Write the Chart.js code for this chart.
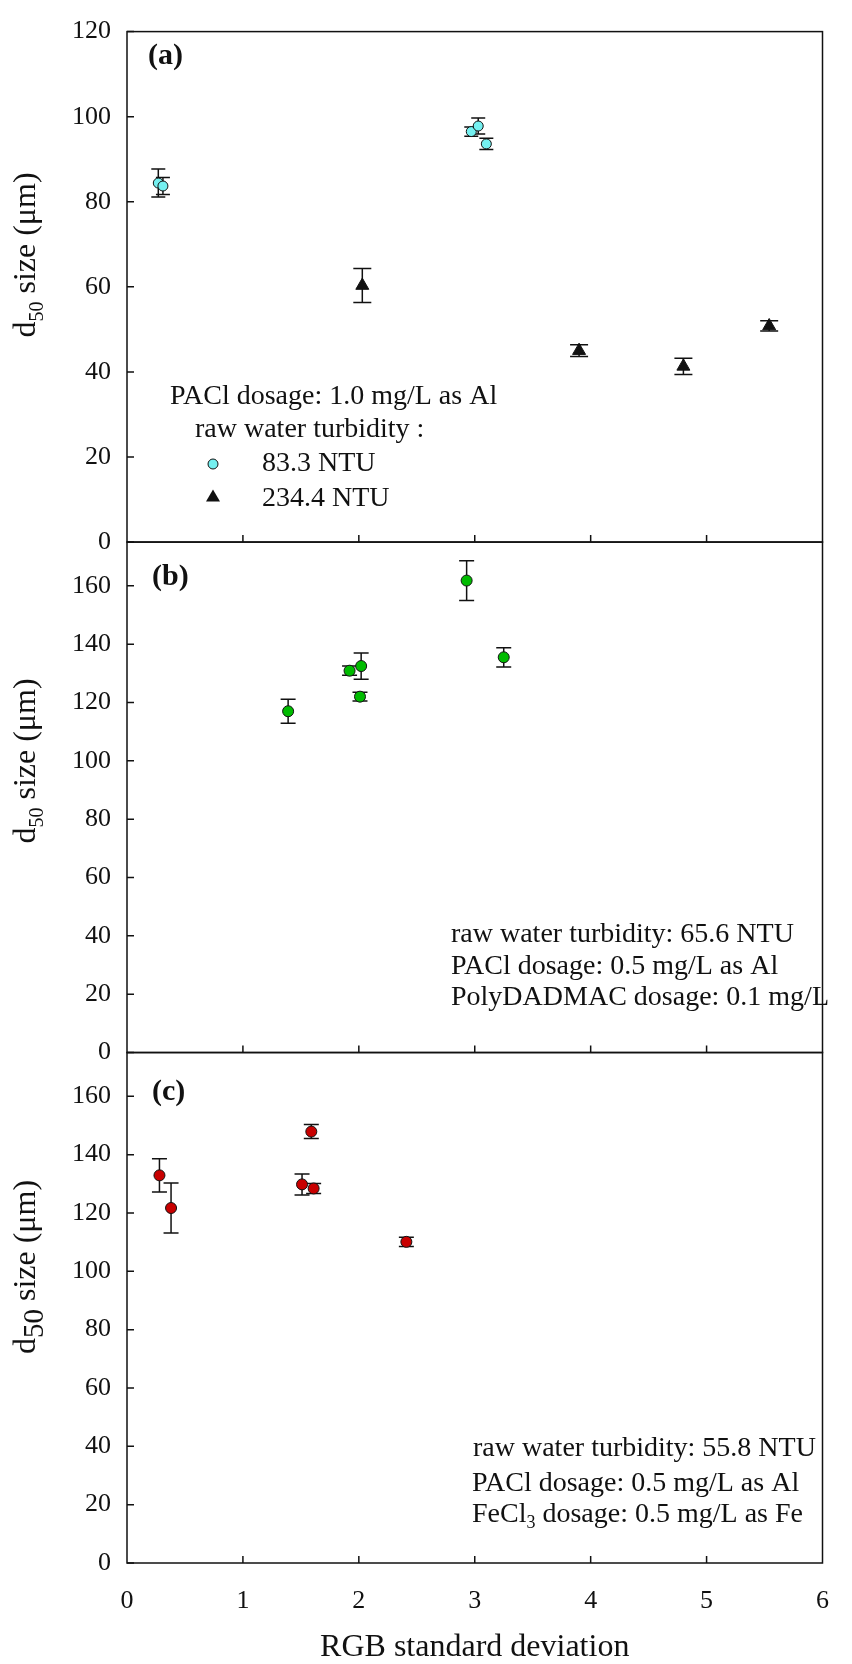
<!DOCTYPE html>
<html>
<head>
<meta charset="utf-8">
<script src="https://cdn.jsdelivr.net/npm/chart.js@4.4.1/dist/chart.umd.min.js"></script>
<style>
html, body { margin: 0; padding: 0; background: #fff; }
canvas { display: block; }
</style>
</head>
<body>
<canvas id="chart" width="852" height="1664"></canvas>
<script>
// panel (a) - PACl 1.0 mg/L as Al, two raw water turbidities
var xA1 = [0.27, 0.31, 2.97, 3.03, 3.10];
var yA1 = [84.4, 83.7, 96.5, 97.8, 93.6];
var eA1 = [3.3, 2.0, 1.1, 1.9, 1.3];
var xA2 = [2.03, 3.90, 4.80, 5.54];
var yA2 = [60.3, 45.0, 41.3, 50.8];
var eA2 = [4.0, 1.4, 1.9, 1.2];

// panel (b) - PACl + PolyDADMAC
var xB = [1.39, 1.92, 2.02, 2.01, 2.93, 3.25];
var yB = [117.0, 130.9, 132.5, 122.0, 161.8, 135.5];
var eB = [4.1, 1.6, 4.5, 1.5, 6.8, 3.3];

// panel (c) - PACl + FeCl3
var xC = [0.28, 0.38, 1.51, 1.61, 1.59, 2.41];
var yC = [132.9, 121.7, 129.8, 128.4, 147.9, 110.1];
var eC = [5.7, 8.6, 3.6, 1.7, 2.4, 1.6];

var xTicks = [0, 1, 2, 3, 4, 5, 6];
var legendA = ['83.3 NTU', '234.4 NTU'];
var notesB = ['raw water turbidity: 65.6 NTU', 'PACl dosage: 0.5 mg/L as Al', 'PolyDADMAC dosage: 0.1 mg/L'];

var FONT = "'Liberation Serif', 'Times New Roman', serif";
var INK = '#111';

function toPoints(xs, ys) {
    return xs.map(function (x, i) { return { x: x, y: ys[i] }; });
}

var errorBars = {
    id: 'errorBars',
    beforeDatasetsDraw: function (chart) {
        var ctx = chart.ctx;
        ctx.save();
        ctx.strokeStyle = INK;
        ctx.lineWidth = 1.5;
        chart.data.datasets.forEach(function (ds, i) {
            var meta = chart.getDatasetMeta(i);
            var ys = chart.scales[ds.yAxisID];
            meta.data.forEach(function (pt, j) {
                var v = ds.data[j].y, e = ds.errors[j], w = ds.capHalf;
                var top = ys.getPixelForValue(v + e);
                var bot = ys.getPixelForValue(v - e);
                ctx.beginPath();
                ctx.moveTo(pt.x, top); ctx.lineTo(pt.x, bot);
                ctx.moveTo(pt.x - w, top); ctx.lineTo(pt.x + w, top);
                ctx.moveTo(pt.x - w, bot); ctx.lineTo(pt.x + w, bot);
                ctx.stroke();
            });
        });
        ctx.restore();
    }
};

function text(ctx, s, x, y, size, bold) {
    ctx.font = (bold ? 'bold ' : '') + size + 'px ' + FONT;
    ctx.fillText(s, x, y);
    return ctx.measureText(s).width;
}

function yTitle(ctx, cx, cy, subSize, subShift) {
    ctx.save();
    ctx.translate(cx, cy);
    ctx.rotate(-Math.PI / 2);
    ctx.textBaseline = 'alphabetic';
    ctx.textAlign = 'left';
    ctx.font = '32px ' + FONT;
    var wd = ctx.measureText('d').width;
    var wr = ctx.measureText(' size (\u03bcm)').width;
    ctx.font = subSize + 'px ' + FONT;
    var ws = ctx.measureText('50').width;
    var x0 = -(wd + ws + wr) / 2;
    text(ctx, 'd', x0, 0, 32);
    text(ctx, '50', x0 + wd, subShift, subSize);
    text(ctx, ' size (\u03bcm)', x0 + wd + ws, 0, 32);
    ctx.restore();
}

var frames = {
    id: 'frames',
    afterDraw: function (chart) {
        var ctx = chart.ctx, area = chart.chartArea, xs = chart.scales.x;
        ctx.save();
        ctx.strokeStyle = INK;
        ctx.lineWidth = 1.5;
        ['yA', 'yB', 'yC'].forEach(function (id) {
            var s = chart.scales[id];
            ctx.strokeRect(area.left, s.top, area.right - area.left, s.bottom - s.top);
            ctx.beginPath();
            s.ticks.forEach(function (t) {
                var py = s.getPixelForValue(t.value);
                ctx.moveTo(area.left, py); ctx.lineTo(area.left + 7, py);
            });
            xTicks.slice(1, -1).forEach(function (v) {
                var px = xs.getPixelForValue(v);
                ctx.moveTo(px, s.bottom); ctx.lineTo(px, s.bottom - 7);
            });
            ctx.stroke();
        });

        ctx.fillStyle = INK;
        ctx.textBaseline = 'middle';
        ctx.textAlign = 'left';

        // panel letters
        text(ctx, '(a)', 148, 56, 30, true);
        text(ctx, '(b)', 152, 577, 30, true);
        text(ctx, '(c)', 152, 1092, 30, true);

        // panel (a) legend
        text(ctx, 'PACl dosage: 1.0 mg/L as Al', 170, 397, 28);
        text(ctx, 'raw water turbidity :', 195, 430, 28);
        text(ctx, legendA[0], 262, 464, 28);
        text(ctx, legendA[1], 262, 499, 28);
        ctx.lineWidth = 1;
        ctx.fillStyle = '#74f0f0';
        ctx.beginPath();
        ctx.arc(213, 464, 5, 0, Math.PI * 2);
        ctx.fill(); ctx.stroke();
        ctx.fillStyle = INK;
        ctx.beginPath();
        ctx.moveTo(213, 489.5); ctx.lineTo(220, 501.5); ctx.lineTo(206, 501.5);
        ctx.closePath(); ctx.fill();

        // panel (b) notes
        notesB.forEach(function (s, i) {
            text(ctx, s, 451, 935 + i * 31.5, 28);
        });

        // panel (c) notes
        text(ctx, 'raw water turbidity: 55.8 NTU', 473, 1449, 28);
        text(ctx, 'PACl dosage: 0.5 mg/L as Al', 472, 1484, 28);
        var w = text(ctx, 'FeCl', 472, 1515, 28);
        var w3 = text(ctx, '3', 472 + w, 1523, 18);
        text(ctx, ' dosage: 0.5 mg/L as Fe', 472 + w + w3, 1515, 28);

        // y titles
        yTitle(ctx, 35, 255, 20, 8);
        yTitle(ctx, 35, 761, 20, 8);
        yTitle(ctx, 35, 1267, 29, 8);
        ctx.restore();
    }
};

function yScale(max, weight) {
    return {
        type: 'linear',
        position: 'left',
        stack: 'panels',
        stackWeight: 1,
        weight: weight,
        min: 0,
        max: max,
        grid: { display: false, drawTicks: false },
        border: { display: false },
        ticks: {
            stepSize: 20,
            includeBounds: false,
            padding: 16,
            color: INK,
            font: { family: FONT, size: 26 }
        },
        afterFit: function (s) { s.width = 127; }
    };
}

new Chart(document.getElementById('chart'), {
    type: 'scatter',
    data: {
        datasets: [{
            data: toPoints(xC, yC),
            errors: eC,
            capHalf: 7.5,
            yAxisID: 'yC',
            pointRadius: 5.5,
            pointBackgroundColor: '#c80000',
            pointBorderColor: INK,
            pointBorderWidth: 1
        }, {
            data: toPoints(xB, yB),
            errors: eB,
            capHalf: 7.5,
            yAxisID: 'yB',
            pointRadius: 5.5,
            pointBackgroundColor: '#00bb00',
            pointBorderColor: INK,
            pointBorderWidth: 1
        }, {
            data: toPoints(xA2, yA2),
            errors: eA2,
            capHalf: 9,
            yAxisID: 'yA',
            pointStyle: 'triangle',
            pointRadius: 7.5,
            pointBackgroundColor: INK,
            pointBorderColor: INK,
            pointBorderWidth: 1
        }, {
            data: toPoints(xA1, yA1),
            errors: eA1,
            capHalf: 7,
            yAxisID: 'yA',
            pointRadius: 5,
            pointBackgroundColor: '#74f0f0',
            pointBorderColor: INK,
            pointBorderWidth: 1
        }]
    },
    options: {
        responsive: false,
        animation: false,
        devicePixelRatio: 1,
        events: [],
        layout: { padding: { top: 19, right: 11, left: 0, bottom: 0 } },
        plugins: {
            legend: { display: false },
            tooltip: { enabled: false }
        },
        scales: {
            x: {
                type: 'linear',
                position: 'bottom',
                min: 0,
                max: 6,
                grid: { display: false, drawTicks: false },
                border: { display: false },
                ticks: {
                    stepSize: 1,
                    padding: 23,
                    color: INK,
                    font: { family: FONT, size: 26 }
                },
                title: {
                    display: true,
                    text: 'RGB standard deviation',
                    color: INK,
                    font: { family: FONT, size: 32, lineHeight: 1 },
                    padding: 0
                },
                afterFit: function (s) { s.height = 101; }
            },
            yC: yScale(175, 1),
            yB: yScale(175, 2),
            yA: yScale(120, 3)
        }
    },
    plugins: [errorBars, frames]
});
</script>
</body>
</html>
